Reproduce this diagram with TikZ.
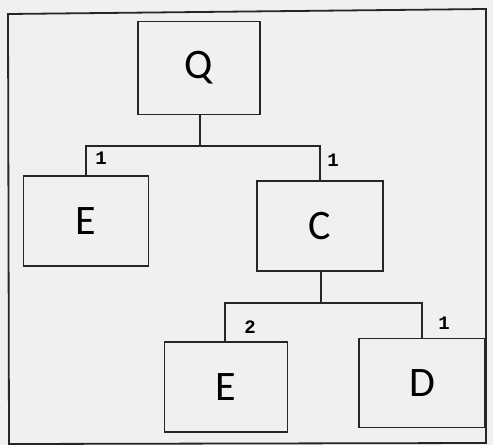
\documentclass[tikz,border=0pt]{standalone}
\usepackage{fontspec}
\setmainfont{Carlito}
\newfontfamily\labelfont{Liberation Mono}
\begin{document}
\begin{tikzpicture}[x=1pt,y=-1pt,
  box/.style={draw=black!85,line width=1.7pt,fill=none,inner sep=0pt,font=\fontsize{42}{42}\selectfont},
  conn/.style={draw=black!85,line width=1.7pt},
  num/.style={font=\labelfont\bfseries\fontsize{19}{19}\selectfont,inner sep=0pt}]
\useasboundingbox[fill=black!6] (0,0) rectangle (493,445);
\draw[line width=1.8pt,black!85] (8,14) -- (486,9) -- (486,443) -- (9,444) -- cycle;
\node[box,minimum width=122pt,minimum height=93pt] (q) at (199,68) {Q};
\node[box,minimum width=125pt,minimum height=90pt] (e1) at (86,221) {E};
\node[box,minimum width=126pt,minimum height=90pt] (c) at (320,226) {C};
\node[box,minimum width=123pt,minimum height=90pt] (e2) at (226,387) {E};
\node[box,minimum width=126pt,minimum height=89pt] (d) at (422,383) {D};
\coordinate (j1) at (200,146);
\coordinate (j2) at (321,303);
\draw[conn] (q.south -| j1) -- (j1);
\draw[conn] (e1.north) |- (j1) -| (c.north);
\draw[conn] (c.south -| j2) -- (j2);
\draw[conn] (e2.north -| 225,0) |- (j2) -| (d.north);
\node[num] (n1) at (101,158) {1};
\node[num] (n2) at (333,160) {1};
\node[num] (n3) at (250,327) {2};
\node[num] (n4) at (444,323) {1};
\end{tikzpicture}
\end{document}
